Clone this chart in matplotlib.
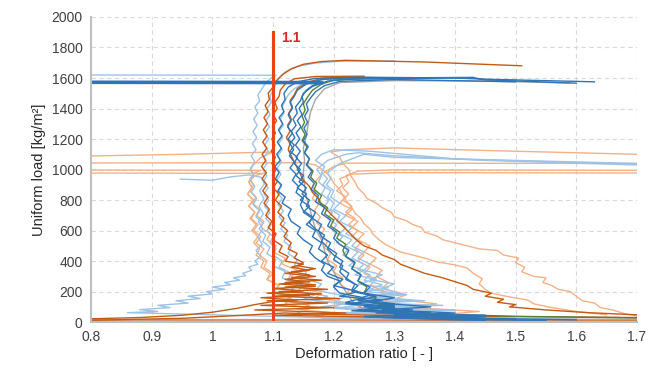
import matplotlib
matplotlib.use("Agg")
import matplotlib.pyplot as plt

plt.rcParams['font.family'] = ['Liberation Sans', 'DejaVu Sans']

# colours
DB = '#2E75B6'
LB = '#9DC3E6'
BR = '#C55A11'
LO = '#F4B183'
GR = '#548235'
GY = '#A5A5A5'

# each curve: (deformation ratio, load) pairs, bottom to top

# ---- light orange ----
lo1 = [(1.70, 40), (1.68, 55), (1.66, 80), (1.64, 95), (1.63, 125), (1.61, 140), (1.60, 170), (1.59, 200),
       (1.57, 215), (1.56, 240), (1.545, 260), (1.55, 290), (1.53, 300), (1.51, 330), (1.515, 360), (1.50, 390),
       (1.505, 420), (1.48, 440), (1.47, 470), (1.44, 480), (1.42, 500), (1.40, 520), (1.38, 540), (1.37, 565),
       (1.35, 590), (1.345, 620), (1.33, 640), (1.32, 665), (1.30, 690), (1.295, 720), (1.28, 750), (1.27, 780),
       (1.255, 810), (1.25, 840), (1.24, 880), (1.235, 920), (1.228, 960), (1.225, 1000), (1.215, 1040),
       (1.21, 1080), (1.195, 1115), (1.22, 1130), (1.30, 1142), (1.45, 1125), (1.70, 1100)]
lo2 = [(1.65, 48), (1.60, 70), (1.56, 95), (1.53, 120), (1.52, 145), (1.49, 165), (1.46, 190), (1.45, 215),
       (1.44, 250), (1.445, 285), (1.43, 320), (1.42, 355), (1.40, 375), (1.37, 395), (1.35, 420), (1.33, 440),
       (1.31, 460), (1.30, 480), (1.285, 510), (1.275, 540), (1.265, 575), (1.26, 610), (1.25, 645), (1.245, 680),
       (1.235, 715), (1.23, 750), (1.222, 790), (1.215, 830), (1.21, 870), (1.20, 910), (1.195, 950),
       (1.185, 990), (1.17, 1030), (1.15, 1045), (0.80, 1043)]
lo3 = [(1.35, 20), (1.28, 50), (1.30, 75), (1.24, 100), (1.26, 130), (1.22, 170), (1.225, 210), (1.21, 250),
       (1.215, 290), (1.20, 330), (1.205, 370), (1.19, 410), (1.195, 450), (1.185, 490), (1.19, 530),
       (1.178, 570), (1.185, 610), (1.172, 650), (1.178, 690), (1.168, 730), (1.175, 770), (1.165, 810),
       (1.17, 850), (1.165, 890), (1.172, 930), (1.18, 970), (1.20, 1020), (1.22, 1042), (1.70, 1040)]
lo4 = [(1.30, 30), (1.24, 55), (1.27, 75), (1.20, 100), (1.22, 130), (1.17, 160), (1.18, 190), (1.15, 220),
       (1.16, 260), (1.13, 300), (1.14, 340), (1.115, 380), (1.12, 420), (1.10, 460), (1.105, 500), (1.09, 540),
       (1.095, 580), (1.08, 620), (1.085, 660), (1.072, 700), (1.078, 740), (1.066, 780), (1.072, 820),
       (1.062, 860), (1.068, 900), (1.062, 940), (1.07, 980), (1.08, 995), (0.80, 997)]
lo5 = [(1.40, 20), (1.30, 45), (1.36, 65), (1.28, 90), (1.31, 120), (1.27, 160), (1.285, 200), (1.26, 240),
       (1.27, 280), (1.25, 320), (1.26, 360), (1.24, 400), (1.25, 440), (1.235, 480), (1.245, 520), (1.23, 560),
       (1.24, 600), (1.225, 640), (1.235, 680), (1.22, 720), (1.23, 760), (1.215, 800), (1.225, 840),
       (1.215, 880), (1.225, 920), (1.22, 960), (1.24, 990), (1.30, 998), (1.70, 995)]
lo6 = [(1.25, 15), (1.17, 40), (1.20, 60), (1.14, 85), (1.16, 110), (1.12, 140), (1.13, 170), (1.10, 200),
       (1.11, 240), (1.09, 280), (1.10, 320), (1.085, 360), (1.09, 400), (1.078, 440), (1.085, 480),
       (1.072, 520), (1.08, 560), (1.068, 600), (1.075, 640), (1.064, 680), (1.07, 720), (1.06, 760),
       (1.067, 800), (1.058, 840), (1.065, 880), (1.06, 920), (1.07, 960), (1.085, 975), (0.80, 977)]
lo7 = [(1.50, 25), (1.38, 50), (1.44, 70), (1.33, 95), (1.37, 120), (1.30, 150), (1.32, 180), (1.28, 220),
       (1.29, 260), (1.27, 300), (1.28, 340), (1.26, 380), (1.27, 420), (1.25, 460), (1.26, 500), (1.24, 540),
       (1.25, 580), (1.23, 620), (1.24, 660), (1.22, 700), (1.23, 740), (1.21, 780), (1.22, 820), (1.205, 860),
       (1.215, 900), (1.21, 940), (1.23, 970), (1.30, 980), (1.70, 977)]
lo8 = [(1.20, 30), (1.14, 60), (1.16, 90), (1.12, 120), (1.13, 160), (1.10, 200), (1.11, 240), (1.09, 280),
       (1.095, 320), (1.08, 360), (1.085, 400), (1.072, 440), (1.078, 480), (1.068, 520), (1.075, 560),
       (1.065, 600), (1.072, 640), (1.062, 680), (1.07, 720), (1.06, 760), (1.068, 800), (1.058, 840),
       (1.066, 880), (1.06, 920), (1.068, 960), (1.062, 1000), (1.07, 1040), (1.08, 1080), (1.10, 1115),
       (0.95, 1100), (0.80, 1089)]

# ---- light blue ----
lb1 = [(1.40, 5), (1.30, 25), (1.35, 40), (1.22, 60), (1.28, 80), (1.18, 100), (1.22, 120), (1.15, 150),
       (1.17, 180), (1.13, 210), (1.14, 250), (1.115, 290), (1.12, 330), (1.10, 370), (1.105, 410), (1.09, 450),
       (1.095, 490), (1.083, 530), (1.088, 570), (1.077, 610), (1.083, 650), (1.072, 690), (1.078, 730),
       (1.067, 770), (1.073, 810), (1.064, 850), (1.07, 890), (1.062, 930), (1.068, 970), (1.063, 1010),
       (1.07, 1050), (1.064, 1090), (1.072, 1130), (1.066, 1170), (1.073, 1210), (1.067, 1250), (1.074, 1290),
       (1.068, 1330), (1.075, 1370), (1.07, 1410), (1.078, 1450), (1.075, 1490), (1.082, 1530), (1.088, 1570),
       (1.10, 1610), (1.105, 1618), (0.80, 1620)]
lb2 = [(1.60, 20), (1.20, 28), (0.86, 62), (0.91, 70), (0.88, 82), (0.93, 95), (0.91, 110), (0.96, 125),
       (0.94, 140), (0.98, 155), (0.96, 170), (1.00, 185), (0.99, 200), (1.02, 215), (1.00, 230), (1.03, 245),
       (1.02, 260), (1.045, 275), (1.035, 290), (1.055, 305), (1.05, 320), (1.065, 340), (1.06, 360),
       (1.075, 380), (1.07, 400), (1.08, 430), (1.072, 470), (1.082, 510), (1.075, 560), (1.083, 610),
       (1.076, 660), (1.084, 710), (1.077, 760), (1.085, 810), (1.078, 860), (1.086, 910), (1.08, 950),
       (1.06, 965), (1.03, 952), (1.00, 930), (0.947, 937)]
lb3 = [(1.45, 20), (1.28, 35), (1.42, 50), (1.26, 65), (1.40, 80), (1.25, 95), (1.38, 110), (1.27, 125),
       (1.35, 140), (1.26, 160), (1.32, 180), (1.25, 200), (1.29, 225), (1.24, 250), (1.27, 280), (1.235, 310),
       (1.25, 340), (1.225, 370), (1.235, 400), (1.215, 440), (1.225, 480), (1.205, 520), (1.215, 560),
       (1.198, 600), (1.205, 640), (1.19, 680), (1.198, 720), (1.185, 760), (1.192, 800), (1.18, 840),
       (1.186, 880), (1.175, 920), (1.18, 960), (1.172, 1000), (1.19, 1060), (1.22, 1100), (1.24, 1110),
       (1.30, 1090), (1.45, 1060), (1.70, 1030)]
lb4 = [(1.42, 10), (1.18, 22), (1.38, 40), (1.20, 55), (1.36, 70), (1.22, 85), (1.34, 100), (1.24, 120),
       (1.32, 140), (1.25, 165), (1.30, 190), (1.26, 215), (1.28, 245), (1.25, 275), (1.26, 310), (1.24, 345),
       (1.25, 380), (1.23, 420), (1.24, 460), (1.22, 500), (1.23, 540), (1.21, 580), (1.22, 620), (1.205, 660),
       (1.21, 700), (1.195, 740), (1.20, 780), (1.19, 820), (1.195, 860), (1.182, 900), (1.19, 940),
       (1.18, 980), (1.185, 1020), (1.17, 1060), (1.18, 1100), (1.20, 1130), (1.26, 1120), (1.40, 1070),
       (1.70, 1040)]
lb5 = [(1.35, 30), (1.25, 50), (1.30, 70), (1.20, 90), (1.24, 110), (1.17, 140), (1.19, 170), (1.14, 200),
       (1.15, 240), (1.125, 280), (1.13, 320), (1.11, 360), (1.115, 400), (1.10, 440), (1.105, 480),
       (1.095, 520), (1.10, 560), (1.09, 600), (1.097, 640), (1.088, 680), (1.095, 720), (1.086, 760),
       (1.093, 800), (1.085, 840), (1.092, 880), (1.084, 920), (1.09, 960), (1.083, 1000), (1.09, 1040),
       (1.085, 1080), (1.092, 1120), (1.086, 1160), (1.093, 1200), (1.087, 1240), (1.094, 1280),
       (1.088, 1320), (1.095, 1360), (1.09, 1400), (1.097, 1440), (1.095, 1480), (1.10, 1520), (1.105, 1560),
       (1.11, 1600), (1.12, 1640), (1.14, 1675), (1.17, 1698), (1.21, 1710), (1.30, 1712)]
lb6 = [(1.55, 15), (1.20, 25), (1.45, 45), (1.18, 60), (1.40, 75), (1.22, 90), (1.36, 105), (1.24, 125),
       (1.33, 145), (1.27, 165), (1.31, 190), (1.28, 220), (1.30, 250), (1.26, 280), (1.28, 310), (1.25, 340),
       (1.26, 380), (1.24, 420), (1.25, 460), (1.23, 500), (1.24, 540), (1.22, 580), (1.23, 620), (1.21, 660),
       (1.22, 700), (1.20, 740), (1.21, 780), (1.195, 820), (1.20, 860), (1.188, 900), (1.195, 940),
       (1.19, 980), (1.21, 1040), (1.25, 1100), (1.30, 1080), (1.70, 1035)]
lb7 = [(1.45, 10), (1.30, 30), (1.38, 50), (1.24, 75), (1.30, 100), (1.20, 130), (1.22, 170), (1.17, 210),
       (1.18, 250), (1.15, 290), (1.155, 330), (1.135, 370), (1.14, 410), (1.125, 450), (1.13, 490),
       (1.118, 530), (1.124, 570), (1.113, 610), (1.12, 650), (1.11, 690), (1.117, 730), (1.108, 770),
       (1.115, 810), (1.107, 850), (1.114, 890), (1.106, 930), (1.113, 970), (1.107, 1010), (1.114, 1050),
       (1.108, 1090), (1.115, 1130), (1.109, 1170), (1.116, 1210), (1.11, 1250), (1.117, 1290), (1.112, 1330),
       (1.118, 1370), (1.115, 1410), (1.12, 1450), (1.125, 1490), (1.135, 1530), (1.15, 1565), (1.18, 1590),
       (1.25, 1598), (1.35, 1602), (1.43, 1607), (1.44, 1593), (1.50, 1585)]

# ---- grey ----
gy1 = [(0.80, 16), (1.70, 19)]
gy2 = [(1.48, 12), (1.30, 40), (1.25, 80), (1.23, 140), (1.22, 200), (1.21, 260), (1.20, 330), (1.19, 400),
       (1.185, 470), (1.18, 540), (1.17, 610), (1.165, 680), (1.16, 750), (1.155, 820), (1.152, 900),
       (1.15, 980), (1.152, 1060), (1.15, 1140), (1.155, 1220), (1.158, 1300), (1.162, 1380), (1.17, 1460),
       (1.185, 1530), (1.21, 1570), (1.30, 1583), (1.45, 1580), (1.59, 1567)]

# ---- brown ----
br0 = [(0.80, 6), (1.70, 8)]
br1 = [(0.80, 22), (0.88, 30), (0.95, 45), (1.00, 65), (1.04, 90), (1.07, 115), (1.10, 135), (1.14, 145),
       (1.08, 160), (1.16, 175), (1.09, 190), (1.15, 205), (1.10, 220), (1.17, 235), (1.11, 250), (1.16, 265),
       (1.12, 280), (1.17, 300), (1.12, 320), (1.16, 340), (1.13, 360), (1.15, 380), (1.12, 400), (1.125, 430),
       (1.11, 460), (1.115, 500), (1.10, 540), (1.105, 580), (1.092, 620), (1.098, 660), (1.088, 700),
       (1.094, 740), (1.085, 780), (1.092, 820), (1.083, 860), (1.09, 900), (1.082, 940), (1.089, 980),
       (1.081, 1020), (1.088, 1060), (1.082, 1100), (1.09, 1140), (1.083, 1180), (1.09, 1220), (1.084, 1260),
       (1.091, 1300), (1.085, 1340), (1.092, 1380), (1.087, 1420), (1.094, 1460), (1.092, 1500), (1.10, 1540),
       (1.105, 1580), (1.115, 1620), (1.13, 1660), (1.15, 1690), (1.18, 1708), (1.22, 1716), (1.35, 1705),
       (1.51, 1680)]
br2 = [(1.70, 48), (1.62, 62), (1.55, 80), (1.49, 100), (1.50, 115), (1.47, 130), (1.48, 150), (1.45, 170),
       (1.46, 190), (1.43, 215), (1.42, 240), (1.40, 265), (1.38, 290), (1.35, 320), (1.33, 350), (1.31, 380),
       (1.30, 410), (1.28, 440), (1.27, 470), (1.25, 500), (1.24, 530), (1.23, 570), (1.22, 610), (1.21, 650),
       (1.20, 690), (1.19, 730), (1.18, 770), (1.175, 810), (1.165, 850), (1.16, 890), (1.15, 930),
       (1.145, 970), (1.14, 1010), (1.135, 1050), (1.13, 1090), (1.125, 1130), (1.128, 1170), (1.122, 1210),
       (1.128, 1250), (1.124, 1290), (1.13, 1330), (1.126, 1370), (1.132, 1410), (1.128, 1450), (1.135, 1490),
       (1.14, 1530), (1.155, 1570), (1.18, 1598), (1.22, 1606), (1.30, 1600)]
br3 = [(1.50, 18), (1.10, 45), (1.22, 60), (1.07, 80), (1.20, 95), (1.08, 110), (1.19, 125), (1.09, 140),
       (1.21, 155), (1.10, 170), (1.18, 185), (1.11, 200), (1.19, 215), (1.12, 230), (1.17, 245), (1.12, 260),
       (1.18, 275), (1.13, 290), (1.16, 310), (1.13, 330), (1.17, 350), (1.14, 370), (1.15, 390), (1.135, 420),
       (1.14, 450), (1.125, 480), (1.13, 520), (1.118, 560), (1.124, 600), (1.112, 640), (1.118, 680),
       (1.108, 720), (1.114, 760), (1.104, 800), (1.11, 840), (1.10, 880), (1.107, 920), (1.099, 960),
       (1.105, 1000), (1.098, 1040), (1.104, 1080), (1.097, 1120), (1.103, 1160), (1.098, 1200), (1.104, 1240),
       (1.099, 1280), (1.106, 1320), (1.10, 1360), (1.107, 1400), (1.103, 1440), (1.11, 1480), (1.112, 1520),
       (1.12, 1560), (1.135, 1595), (1.17, 1610), (1.25, 1612)]
br4 = [(0.80, 12), (0.95, 25), (1.05, 45), (1.12, 60), (1.20, 50), (1.35, 40), (1.55, 35), (1.70, 30)]

# ---- green ----
gr1 = [(1.70, 28), (1.50, 38), (1.33, 58), (1.28, 80), (1.30, 100), (1.26, 130), (1.27, 160), (1.25, 190),
       (1.255, 230), (1.24, 270), (1.245, 310), (1.23, 350), (1.235, 390), (1.22, 430), (1.215, 470),
       (1.22, 510), (1.205, 550), (1.21, 590), (1.195, 630), (1.20, 670), (1.185, 710), (1.19, 750),
       (1.175, 790), (1.18, 830), (1.168, 870), (1.172, 910), (1.162, 950), (1.166, 990), (1.156, 1030),
       (1.16, 1070), (1.152, 1110), (1.156, 1150), (1.148, 1190), (1.153, 1230), (1.147, 1270), (1.152, 1310),
       (1.148, 1350), (1.153, 1390), (1.15, 1430), (1.156, 1470), (1.165, 1520), (1.18, 1560), (1.20, 1585),
       (1.25, 1597)]

# ---- dark blue ----
db1 = [(1.55, 10), (1.38, 20), (1.45, 35), (1.30, 50), (1.36, 65), (1.24, 80), (1.30, 100), (1.22, 130),
       (1.25, 160), (1.21, 190), (1.20, 230), (1.21, 270), (1.19, 300), (1.18, 340), (1.185, 380), (1.17, 420),
       (1.16, 460), (1.165, 500), (1.15, 540), (1.14, 580), (1.145, 620), (1.13, 660), (1.125, 700),
       (1.13, 740), (1.115, 780), (1.12, 820), (1.108, 860), (1.114, 900), (1.104, 940), (1.11, 980),
       (1.103, 1020), (1.112, 1060), (1.106, 1100), (1.114, 1140), (1.107, 1180), (1.115, 1220), (1.109, 1260),
       (1.116, 1300), (1.11, 1340), (1.118, 1380), (1.114, 1420), (1.12, 1460), (1.118, 1500), (1.125, 1540),
       (1.14, 1575), (1.17, 1598), (1.25, 1605), (1.40, 1600), (1.45, 1592), (1.63, 1575)]
db2 = [(1.45, 10), (1.28, 30), (1.35, 50), (1.25, 80), (1.30, 110), (1.24, 140), (1.27, 170), (1.23, 200),
       (1.24, 240), (1.22, 280), (1.225, 320), (1.21, 360), (1.215, 400), (1.20, 440), (1.19, 480),
       (1.195, 520), (1.18, 560), (1.175, 600), (1.18, 640), (1.165, 680), (1.17, 720), (1.155, 760),
       (1.16, 800), (1.148, 840), (1.155, 880), (1.143, 920), (1.15, 960), (1.14, 1000), (1.147, 1040),
       (1.138, 1080), (1.145, 1120), (1.137, 1160), (1.144, 1200), (1.138, 1240), (1.146, 1280), (1.14, 1320),
       (1.148, 1360), (1.143, 1400), (1.15, 1440), (1.148, 1480), (1.155, 1520), (1.165, 1550), (1.18, 1570),
       (0.80, 1572)]
db3 = [(1.60, 15), (1.35, 30), (1.45, 45), (1.27, 60), (1.33, 80), (1.25, 100), (1.30, 120), (1.24, 150),
       (1.26, 180), (1.23, 210), (1.235, 250), (1.22, 290), (1.21, 330), (1.215, 370), (1.20, 410),
       (1.205, 450), (1.19, 490), (1.18, 530), (1.185, 570), (1.17, 610), (1.16, 650), (1.165, 690),
       (1.15, 730), (1.145, 770), (1.15, 810), (1.138, 850), (1.142, 890), (1.132, 930), (1.138, 970),
       (1.128, 1010), (1.135, 1050), (1.127, 1090), (1.134, 1130), (1.128, 1170), (1.136, 1210), (1.13, 1250),
       (1.138, 1290), (1.133, 1330), (1.14, 1370), (1.137, 1410), (1.145, 1450), (1.15, 1500), (1.165, 1545),
       (1.19, 1580), (1.22, 1592), (1.30, 1595), (1.43, 1602), (1.45, 1588), (1.60, 1566)]
db4 = [(1.50, 20), (1.30, 40), (1.40, 60), (1.28, 80), (1.36, 100), (1.26, 130), (1.30, 160), (1.25, 190),
       (1.26, 230), (1.24, 270), (1.245, 310), (1.23, 350), (1.235, 390), (1.22, 430), (1.225, 470),
       (1.21, 510), (1.20, 550), (1.205, 590), (1.19, 630), (1.195, 670), (1.18, 710), (1.185, 750),
       (1.17, 790), (1.175, 830), (1.163, 870), (1.168, 910), (1.158, 950), (1.164, 990), (1.155, 1030),
       (1.16, 1070), (1.152, 1110), (1.158, 1150), (1.15, 1190), (1.156, 1230), (1.151, 1270), (1.157, 1310),
       (1.152, 1350), (1.158, 1390), (1.155, 1430), (1.162, 1470), (1.17, 1510), (1.185, 1550), (1.21, 1578),
       (1.30, 1590), (1.50, 1575)]
db5 = [(1.42, 15), (1.25, 35), (1.34, 55), (1.23, 75), (1.30, 95), (1.22, 120), (1.28, 145), (1.21, 170),
       (1.24, 200), (1.20, 240), (1.215, 280), (1.19, 320), (1.20, 360), (1.18, 400), (1.19, 440),
       (1.175, 480), (1.18, 520), (1.165, 560), (1.17, 600), (1.155, 640), (1.165, 680), (1.15, 720),
       (1.16, 760), (1.145, 800), (1.155, 840), (1.14, 880), (1.15, 920), (1.138, 960), (1.145, 1000),
       (1.135, 1040), (1.14, 1080), (1.128, 1120), (1.135, 1160), (1.125, 1200), (1.132, 1240), (1.124, 1280),
       (1.13, 1320), (1.125, 1360), (1.132, 1400), (1.128, 1440), (1.135, 1480), (1.14, 1520), (1.155, 1560),
       (1.18, 1590), (1.22, 1600), (1.30, 1598)]

curves = [
    (lo1, LO), (lo2, LO), (lo3, LO), (lo4, LO), (lo5, LO), (lo6, LO), (lo7, LO), (lo8, LO),
    (lb1, LB), (lb2, LB), (lb3, LB), (lb4, LB), (lb5, LB), (lb6, LB), (lb7, LB),
    (gy1, GY), (gy2, GY),
    (br0, BR), (br4, BR), (br1, BR), (br2, BR), (br3, BR),
    (gr1, GR),
    (db1, DB), (db3, DB), (db4, DB), (db5, DB), (db2, DB),
]

fig = plt.figure(figsize=(6.6, 3.69), dpi=100)
ax = fig.add_axes([0.138, 0.127, 0.827, 0.827])

for pts, c in curves:
    xs, ys = zip(*pts)
    ax.plot(xs, ys, color=c, lw=1.0)
# the heavy horizontal at ~1570
hx, hy = zip(*db2[-2:])
ax.plot(hx, hy, color=DB, lw=2.6)

# limit line at 1.1
ax.plot([1.1, 1.1], [0, 1900], color='#E8431A', lw=2.2)
ax.text(1.113, 1860, '1.1', color='#D9262B', fontsize=10, fontweight='bold', va='center')

ax.set_xlim(0.8, 1.7)
ax.set_ylim(0, 2000)
ax.set_xticks([0.8, 0.9, 1.0, 1.1, 1.2, 1.3, 1.4, 1.5, 1.6, 1.7])
ax.set_xticklabels(['0.8', '0.9', '1', '1.1', '1.2', '1.3', '1.4', '1.5', '1.6', '1.7'])
ax.set_yticks(range(0, 2001, 200))
ax.tick_params(length=0, labelsize=10, colors='#404040', pad=6)
ax.grid(True, ls=(0, (4, 3)), color='#D9D9D9', lw=0.8)
ax.set_axisbelow(True)
for s in ['top', 'right']:
    ax.spines[s].set_visible(False)
for s in ['left', 'bottom']:
    ax.spines[s].set_color('#BFBFBF')
    ax.spines[s].set_linewidth(1.5)

ax.set_xlabel('Deformation ratio [ - ]', fontsize=10.5, color='#262626', labelpad=2)
ax.set_ylabel('Uniform load [kg/m²]', fontsize=10.5, color='#262626', labelpad=4)

fig.savefig('out.png', dpi=100)
